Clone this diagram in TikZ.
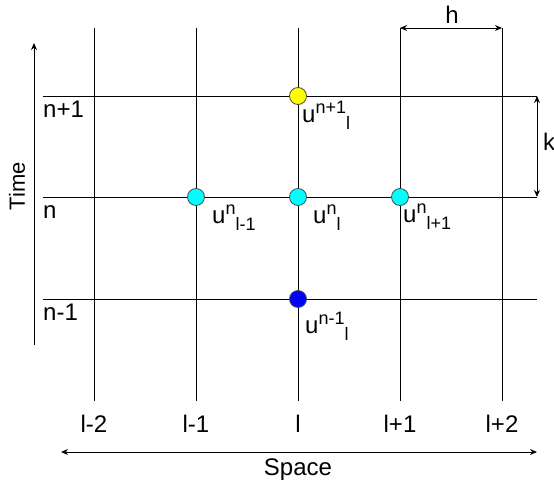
\documentclass[tikz,border=0pt]{standalone}
\usepackage{fontspec}
\setmainfont{Liberation Sans}
\usetikzlibrary{arrows.meta}
\definecolor{uyellow}{RGB}{255,255,0}
\definecolor{ucyan}{RGB}{0,255,255}
\definecolor{ublue}{RGB}{0,0,255}
\newcommand\ulab[2]{u\raisebox{9pt}{\fontsize{18}{20}\selectfont #1}\raisebox{-7pt}{\fontsize{18}{20}\selectfont #2}}
\begin{document}
\begin{tikzpicture}[x=1pt,y=-1pt,
  grid/.style={line width=1pt, black},
  pt/.style={circle, draw=black!70, line width=0.8pt, minimum size=17pt, inner sep=0pt},
  lab/.style={inner sep=0pt, anchor=base west, font=\fontsize{24}{28}\selectfont},
  tick/.style={inner sep=0pt, anchor=base, font=\fontsize{24}{28}\selectfont},
  arr/.style={line width=1pt, -{Stealth[length=7pt,width=6pt]}},
  dim/.style={line width=1pt, {Stealth[length=7pt,width=6pt]}-{Stealth[length=7pt,width=6pt]}},
]
\useasboundingbox (0,0) rectangle (554,482);

% vertical grid lines
\foreach \x/\n in {94/a,196/b,298/c,400/d,502/e}{
  \coordinate (\n t) at (\x,28);
  \coordinate (\n b) at (\x,401);
}
\draw[grid] (at) -- (ab);
\draw[grid] (bt) -- (bb);
\draw[grid] (ct) -- (cb);
\draw[grid] (dt) -- (db);
\draw[grid] (et) -- (eb);

% horizontal grid lines
\coordinate (r1l) at (43,96);  \coordinate (r1r) at (537,96);
\coordinate (r2l) at (43,197); \coordinate (r2r) at (537,197);
\coordinate (r3l) at (43,299); \coordinate (r3r) at (537,299);
\draw[grid] (r1l) -- (r1r);
\draw[grid] (r2l) -- (r2r);
\draw[grid] (r3l) -- (r3r);

% dimension arrows
\draw[dim] (dt) -- (et);
\node[lab, anchor=base] (h) at (452,23) {h};
\draw[dim] (r1r) -- (r2r);
\node[lab] (k) at (543,150) {k};

% time axis
\coordinate (tb) at (34,345);
\coordinate (tt) at (34,43);
\draw[arr] (tb) -- (tt);
\node[rotate=90, inner sep=0pt, font=\fontsize{22}{26}\selectfont] (time) at (17,186) {Time};

% space axis
\coordinate (sl) at (61,452);
\coordinate (sr) at (537,452);
\draw[dim] (sl) -- (sr);
\node[tick] (space) at (298,475) {Space};

% row labels
\node[lab] (n1) at (43,117) {n+1};
\node[lab] (n0) at (43,218) {n};
\node[lab] (nm) at (43,320) {n-1};

% column labels
\node[tick] (c1) at (94,432) {l-2};
\node[tick] (c2) at (196,432) {l-1};
\node[tick] (c3) at (298,432) {l};
\node[tick] (c4) at (400,432) {l+1};
\node[tick] (c5) at (502,432) {l+2};

% points
\node[pt, fill=uyellow] (p1) at (298,96) {};
\node[pt, fill=ucyan] (p2) at (196,197) {};
\node[pt, fill=ucyan] (p3) at (298,197) {};
\node[pt, fill=ucyan] (p4) at (400,197) {};
\node[pt, fill=ublue] (p5) at (298,299) {};

% point labels
\node[lab] (u1) at (302,122) {\ulab{n+1}{l}};
\node[lab] (u2) at (212,223) {\ulab{n}{l-1}};
\node[lab] (u3) at (313,223) {\ulab{n}{l}};
\node[lab] (u4) at (403,222) {\ulab{n}{l+1}};
\node[lab] (u5) at (305,333) {\ulab{n-1}{l}};
\end{tikzpicture}
\end{document}
